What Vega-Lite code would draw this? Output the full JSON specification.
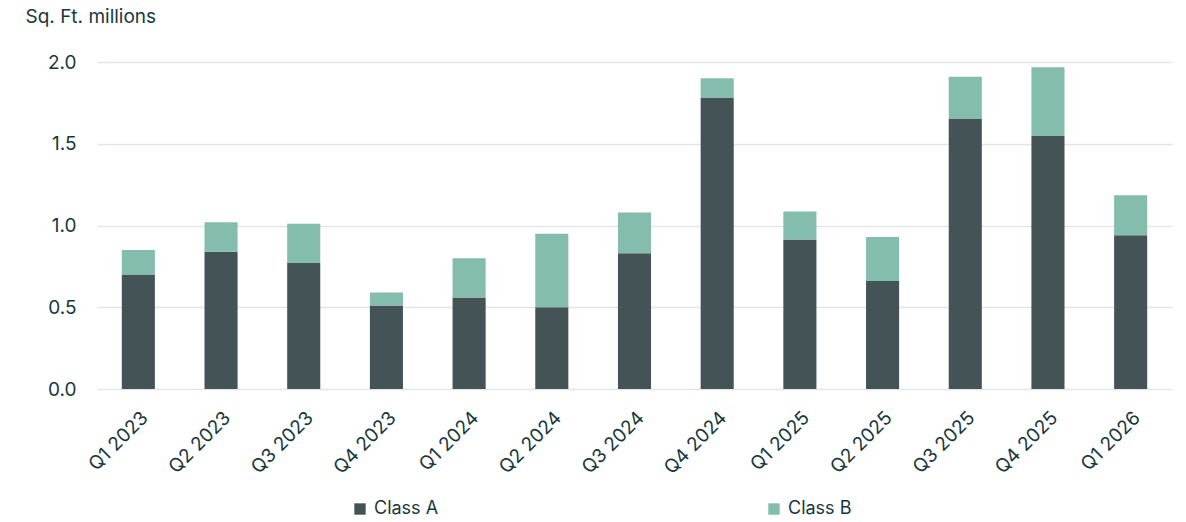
{
  "$schema": "https://vega.github.io/schema/vega-lite/v6.json",
  "width": 1075,
  "height": 327,
  "autosize": {"type": "none"},
  "padding": {"left": 97, "top": 62, "right": 14, "bottom": 133},
  "background": "#ffffff",
  "config": {
    "font": "Inter",
    "view": {"stroke": null},
    "axis": {"labelColor": "#17383b", "titleColor": "#17383b", "labelFontSize": 19, "titleFontSize": 19},
    "legend": {"labelColor": "#17383b", "labelFontSize": 18}
  },
  "data": {
    "values": [
      {"quarter": "Q1 2023", "class": "Class A", "value": 0.70},
      {"quarter": "Q1 2023", "class": "Class B", "value": 0.15},
      {"quarter": "Q2 2023", "class": "Class A", "value": 0.84},
      {"quarter": "Q2 2023", "class": "Class B", "value": 0.18},
      {"quarter": "Q3 2023", "class": "Class A", "value": 0.77},
      {"quarter": "Q3 2023", "class": "Class B", "value": 0.24},
      {"quarter": "Q4 2023", "class": "Class A", "value": 0.51},
      {"quarter": "Q4 2023", "class": "Class B", "value": 0.08},
      {"quarter": "Q1 2024", "class": "Class A", "value": 0.56},
      {"quarter": "Q1 2024", "class": "Class B", "value": 0.24},
      {"quarter": "Q2 2024", "class": "Class A", "value": 0.50},
      {"quarter": "Q2 2024", "class": "Class B", "value": 0.45},
      {"quarter": "Q3 2024", "class": "Class A", "value": 0.83},
      {"quarter": "Q3 2024", "class": "Class B", "value": 0.25},
      {"quarter": "Q4 2024", "class": "Class A", "value": 1.78},
      {"quarter": "Q4 2024", "class": "Class B", "value": 0.12},
      {"quarter": "Q1 2025", "class": "Class A", "value": 0.915},
      {"quarter": "Q1 2025", "class": "Class B", "value": 0.17},
      {"quarter": "Q2 2025", "class": "Class A", "value": 0.66},
      {"quarter": "Q2 2025", "class": "Class B", "value": 0.27},
      {"quarter": "Q3 2025", "class": "Class A", "value": 1.655},
      {"quarter": "Q3 2025", "class": "Class B", "value": 0.255},
      {"quarter": "Q4 2025", "class": "Class A", "value": 1.548},
      {"quarter": "Q4 2025", "class": "Class B", "value": 0.42},
      {"quarter": "Q1 2026", "class": "Class A", "value": 0.94},
      {"quarter": "Q1 2026", "class": "Class B", "value": 0.245}
    ]
  },
  "mark": {"type": "bar"},
  "encoding": {
    "x": {
      "field": "quarter",
      "type": "nominal",
      "sort": null,
      "scale": {"paddingInner": 0.6, "paddingOuter": 0.3},
      "axis": {"title": null, "labelAngle": -45, "domain": false, "ticks": false, "labelPadding": 19}
    },
    "y": {
      "field": "value",
      "type": "quantitative",
      "stack": "zero",
      "scale": {"domain": [0, 2]},
      "axis": {
        "title": "Sq. Ft. millions",
        "titleAngle": 0,
        "titleAlign": "left",
        "titleBaseline": "alphabetic",
        "titleX": -72,
        "titleY": -40,
        "titleFontWeight": "normal",
        "values": [0, 0.5, 1, 1.5, 2],
        "format": ".1f",
        "domain": false,
        "ticks": false,
        "labelPadding": 21,
        "gridColor": "#e1e6e5",
        "gridWidth": 1.5
      }
    },
    "color": {
      "field": "class",
      "type": "nominal",
      "scale": {"domain": ["Class A", "Class B"], "range": ["#435356", "#84bcad"]},
      "legend": {
        "title": null,
        "orient": "none",
        "direction": "horizontal",
        "legendX": 254,
        "legendY": 438,
        "symbolType": "square",
        "symbolSize": 130,
        "symbolStrokeWidth": 0,
        "labelOffset": 5,
        "columnPadding": 326
      }
    },
    "order": {"field": "class", "sort": "ascending"}
  }
}
